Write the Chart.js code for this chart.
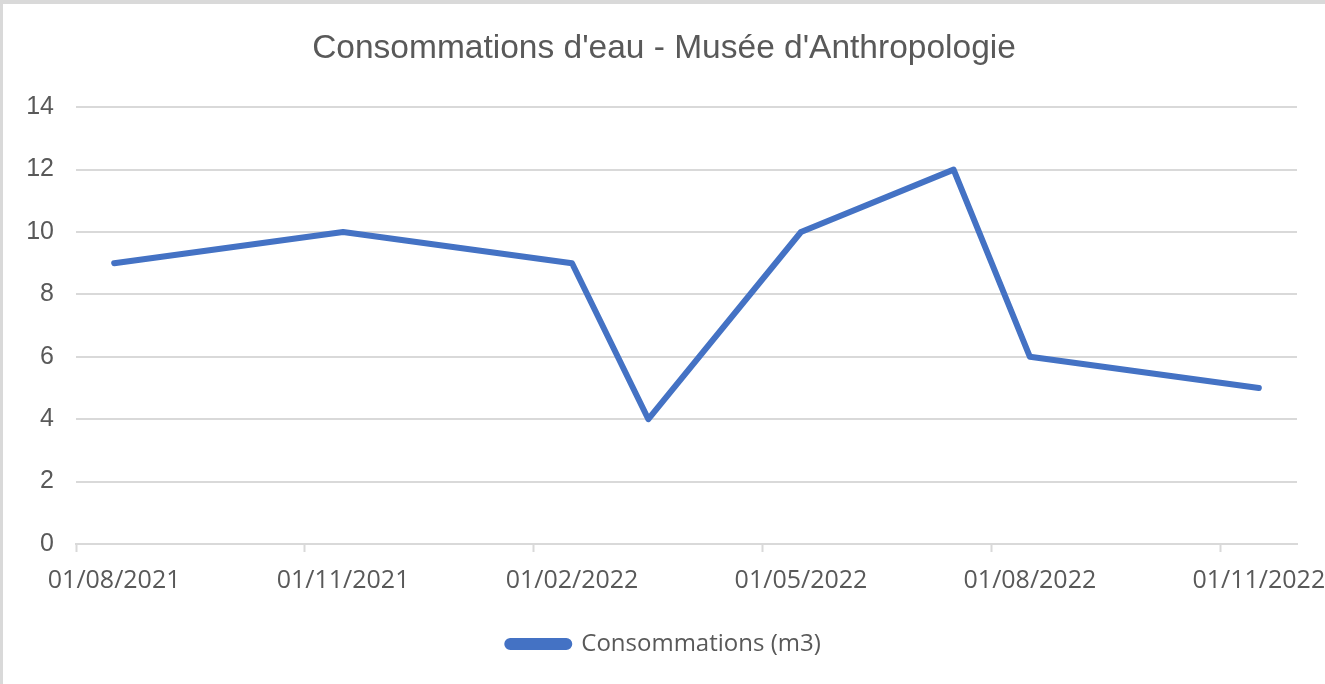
<!DOCTYPE html>
<html lang="fr">
<head>
  <meta charset="UTF-8">
  <title>Consommations d'eau - Musée d'Anthropologie</title>
  <style>
    html, body {
      margin: 0;
      padding: 0;
      background: #ffffff;
    }
    .frame {
      position: absolute;
      left: 0;
      top: 0;
      width: 1325px;
      height: 684px;
      box-sizing: border-box;
      border-top: 4px solid #d9d9d9;
      border-left: 3px solid #d9d9d9;
      background: #ffffff;
    }
    canvas {
      display: block;
    }
  </style>
  <script src="https://cdn.jsdelivr.net/npm/chart.js"></script>
</head>
<body>
  <div class="frame">
    <canvas id="chart" width="1322" height="680"></canvas>
  </div>
  <script>
    // mois de l'axe (une catégorie par mois)
    const months = [
      '01/08/2021', '01/09/2021', '01/10/2021', '01/11/2021',
      '01/12/2021', '01/01/2022', '01/02/2022', '01/03/2022',
      '01/04/2022', '01/05/2022', '01/06/2022', '01/07/2022',
      '01/08/2022', '01/09/2022', '01/10/2022', '01/11/2022'
    ];
    // relevés
    const readingDates = ['01/08/2021', '01/11/2021', '01/02/2022', '01/03/2022',
                          '01/05/2022', '01/07/2022', '01/08/2022', '01/11/2022'];
    const consumption = [9, 10, 9, 4, 10, 12, 6, 5];
    const yTicks = [0, 2, 4, 6, 8, 10, 12, 14];

    const textColor = '#595959';
    const gridColor = '#d9d9d9';
    const blue = '#4472c4';

    const points = readingDates.map((d, i) => ({ x: d, y: consumption[i] }));

    new Chart(document.getElementById('chart'), {
      type: 'line',
      data: {
        labels: months,
        datasets: [{
          label: 'Consommations (m3)',
          data: points,
          borderColor: blue,
          backgroundColor: blue,
          borderWidth: 6,
          borderJoinStyle: 'round',
          borderCapStyle: 'round',
          pointRadius: 0,
          tension: 0,
          fill: false
        }]
      },
      options: {
        responsive: false,
        animation: false,
        layout: { padding: { left: 0, right: 0, top: 0, bottom: 18 } },
        plugins: {
          title: {
            display: true,
            text: "Consommations d'eau - Musée d'Anthropologie",
            color: textColor,
            font: { family: "'Liberation Sans', Arial, sans-serif", size: 33.5, weight: 'normal' },
            padding: { top: 25, bottom: 38 }
          },
          legend: {
            position: 'bottom',
            labels: {
              color: textColor,
              font: { family: "'Open Sans', sans-serif", size: 24 },
              boxWidth: 62,
              boxHeight: 6,
              useBorderRadius: true,
              borderRadius: 3,
              padding: 10
            }
          },
          tooltip: { enabled: false }
        },
        scales: {
          x: {
            type: 'category',
            offset: true,
            grid: {
              offset: true,
              drawOnChartArea: false,
              drawTicks: true,
              tickLength: 8,
              tickWidth: 2,
              tickColor: (ctx) => (ctx.index % 3 === 0 ? gridColor : 'rgba(0,0,0,0)')
            },
            border: { display: true, color: gridColor, width: 2 },
            ticks: {
              autoSkip: false,
              maxRotation: 0,
              minRotation: 0,
              color: textColor,
              font: { family: "'Open Sans', sans-serif", size: 25 },
              padding: 14,
              callback: function (value, index) {
                return index % 3 === 0 ? this.getLabelForValue(value) : '';
              }
            },
            afterFit: (scale) => {
              scale.height = scale.height + 12;
              scale.paddingLeft = 0;
              scale.paddingRight = 28;
            }
          },
          y: {
            min: 0,
            max: 14,
            afterBuildTicks: (scale) => { scale.ticks = yTicks.map(v => ({ value: v })); },
            afterFit: (scale) => { scale.width = 73; },
            grid: { color: gridColor, lineWidth: 2, drawTicks: false },
            border: { display: false },
            ticks: {
              color: textColor,
              font: { family: "'Liberation Sans', Arial, sans-serif", size: 25 },
              padding: 22
            }
          }
        }
      }
    });
  </script>
</body>
</html>
